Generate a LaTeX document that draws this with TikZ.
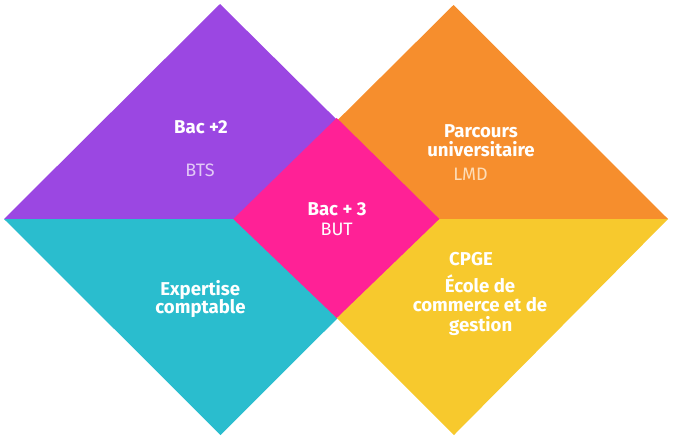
\documentclass[tikz,border=0pt]{standalone}
\usepackage{fontspec}
\setmainfont{Fira Sans}
\definecolor{cpurple}{HTML}{9B47E2}
\definecolor{cteal}{HTML}{2ABDCE}
\definecolor{corange}{HTML}{F68E2D}
\definecolor{cyellow}{HTML}{F7C92D}
\definecolor{cpink}{HTML}{FF2196}
\definecolor{clav}{HTML}{E2C9F6}
\definecolor{cpeach}{HTML}{FDDDB8}
\begin{document}
\begin{tikzpicture}[x=1pt,y=-1pt,
  boldtxt/.style={text=white,font=\fontsize{18.6}{20}\selectfont\bfseries,anchor=base,inner sep=0pt},
  lighttxt/.style={font=\fontsize{18}{20}\selectfont,anchor=base,inner sep=0pt}]
\useasboundingbox (0,0) rectangle (674,442);
\fill[cpurple] (4,219) -- (220,4) -- (437,219) -- cycle;
\fill[cteal] (4,219) -- (220.5,435) -- (437,219) -- cycle;
\fill[corange] (238,219) -- (453.5,5) -- (668,219) -- cycle;
\fill[cyellow] (238,219) -- (454,435) -- (668,219) -- cycle;
\fill[cpink] (233.3,219) -- (336.7,118) -- (439.3,219) -- (336.7,318) -- cycle;
\node[boldtxt] (bac2) at (201,133) {Bac +2};
\node[lighttxt,text=clav] (bts) at (200,176) {BTS};
\node[boldtxt] (parc) at (481,137) {Parcours};
\node[boldtxt] (univ) at (481,156) {universitaire};
\node[lighttxt,text=cpeach] (lmd) at (470.5,180) {LMD};
\node[boldtxt] (bac3) at (337,215.7) {Bac + 3};
\node[lighttxt,text=white] (but) at (336.7,235) {BUT};
\node[boldtxt] (exp) at (200.3,295) {Expertise};
\node[boldtxt] (compt) at (200.5,313.3) {comptable};
\node[boldtxt] (cpge) at (471,265) {CPGE};
\node[boldtxt] (ecole) at (480,292) {École de};
\node[boldtxt] (comm) at (480,311.7) {commerce et de};
\node[boldtxt] (gest) at (480.7,331.5) {gestion};
\end{tikzpicture}
\end{document}
